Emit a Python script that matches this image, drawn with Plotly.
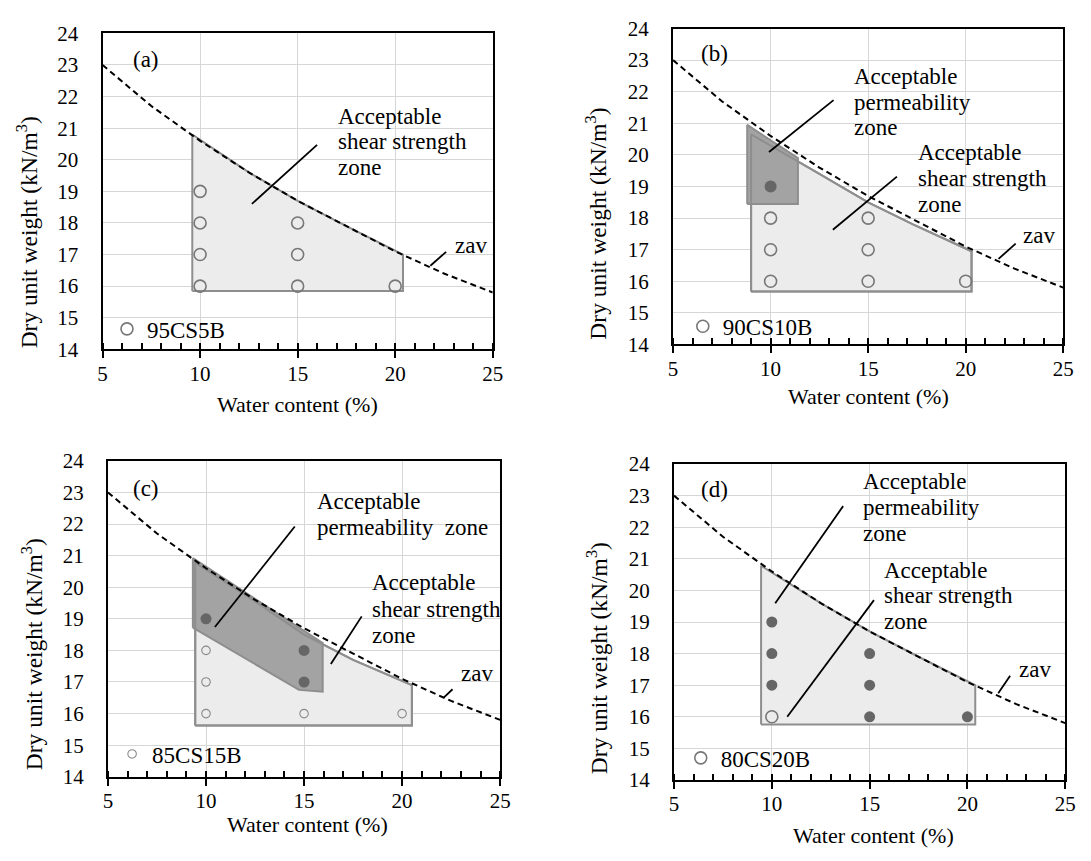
import plotly.graph_objects as go

FIG_W, FIG_H = 1091, 861
FONT = "Liberation Serif, Times New Roman, serif"

# ---------------- data ----------------
X_TICKS = [5, 10, 15, 20, 25]
Y_TICKS = [14, 15, 16, 17, 18, 19, 20, 21, 22, 23, 24]

# zero-air-voids curve (same in all panels)
ZAV_W = [5, 7.5, 10, 12.5, 15, 17.5, 20, 22.5, 25]
ZAV_G = [23.0, 21.7, 20.6, 19.6, 18.7, 17.9, 17.1, 16.4, 15.8]

# (a) 95CS5B
A_NAME = "95CS5B"
A_SHEAR_W = [9.6, 9.6, 12.5, 15.0, 17.5, 20.4, 20.4]
A_SHEAR_G = [15.85, 20.8, 19.6, 18.7, 17.9, 17.0, 15.85]
A_OPEN_W = [10, 10, 10, 10, 15, 15, 15, 20]
A_OPEN_G = [19, 18, 17, 16, 18, 17, 16, 16]
A_FILL_W = []
A_FILL_G = []

# (b) 90CS10B
B_NAME = "90CS10B"
B_SHEAR_W = [9.0, 9.0, 12.5, 15.0, 17.3, 20.3, 20.3]
B_SHEAR_G = [15.68, 20.65, 19.4, 18.5, 17.8, 16.95, 15.68]
B_PERM_W = [8.8, 8.8, 11.4, 11.4]
B_PERM_G = [18.45, 20.95, 19.9, 18.45]
B_OPEN_W = [10, 10, 10, 15, 15, 15, 20]
B_OPEN_G = [18, 17, 16, 18, 17, 16, 16]
B_FILL_W = [10]
B_FILL_G = [19]

# (c) 85CS15B
C_NAME = "85CS15B"
C_SHEAR_W = [9.45, 9.45, 12.5, 15.0, 17.5, 20.5, 20.5]
C_SHEAR_G = [15.62, 20.78, 19.55, 18.5, 17.7, 16.9, 15.62]
C_PERM_W = [9.33, 9.33, 15.95, 15.95, 14.74]
C_PERM_G = [18.72, 20.92, 18.23, 16.69, 16.75]
C_OPEN_W = [10, 10, 10, 15, 20]
C_OPEN_G = [18, 17, 16, 16, 16]
C_FILL_W = [10, 15, 15]
C_FILL_G = [19, 18, 17]

# (d) 80CS20B
D_NAME = "80CS20B"
D_SHEAR_W = [9.45, 9.45, 12.5, 15.0, 17.5, 20.4, 20.4]
D_SHEAR_G = [15.76, 20.78, 19.6, 18.7, 17.9, 17.0, 15.76]
D_OPEN_W = [10]
D_OPEN_G = [16]
D_FILL_W = [10, 10, 10, 15, 15, 15, 20]
D_FILL_G = [19, 18, 17, 18, 17, 16, 16]

# ---------------- helpers ----------------
def px(x):
    return x / FIG_W


def py(y):
    return 1 - y / FIG_H


def closed(a):
    return list(a) + list(a[:1])


SHEAR_FILL = "#ececec"
PERM_FILL = "#a3a3a3"
EDGE = "#8e8e8e"
OPEN_C = "#777777"
FILL_C = "#666666"

panels = [
    dict(key="", legend="legend", name=A_NAME,
         shear=(A_SHEAR_W, A_SHEAR_G), perm=None,
         open=(A_OPEN_W, A_OPEN_G), fill=(A_FILL_W, A_FILL_G),
         open_size=12, open_lw=1.6, open_col=OPEN_C, fill_size=12,
         box=(99, 495, 22, 347)),
    dict(key="2", legend="legend2", name=B_NAME,
         shear=(B_SHEAR_W, B_SHEAR_G), perm=(B_PERM_W, B_PERM_G),
         open=(B_OPEN_W, B_OPEN_G), fill=(B_FILL_W, B_FILL_G),
         open_size=12, open_lw=1.6, open_col=OPEN_C, fill_size=12,
         box=(678, 1074, 17, 342)),
    dict(key="3", legend="legend3", name=C_NAME,
         shear=(C_SHEAR_W, C_SHEAR_G), perm=(C_PERM_W, C_PERM_G),
         open=(C_OPEN_W, C_OPEN_G), fill=(C_FILL_W, C_FILL_G),
         open_size=8.5, open_lw=1.1, open_col="#8a8a8a", fill_size=11,
         box=(104.5, 502.5, 461.7, 786.7)),
    dict(key="4", legend="legend4", name=D_NAME,
         shear=(D_SHEAR_W, D_SHEAR_G), perm=None,
         open=(D_OPEN_W, D_OPEN_G), fill=(D_FILL_W, D_FILL_G),
         open_size=12, open_lw=1.6, open_col=OPEN_C, fill_size=11,
         box=(679, 1076, 465, 790)),
]

fig = go.Figure()
layout = dict(
    width=FIG_W, height=FIG_H,
    margin=dict(l=0, r=0, t=0, b=0),
    paper_bgcolor="white", plot_bgcolor="white",
    showlegend=True,
    font=dict(family=FONT, color="black"),
)

for p in panels:
    xa, ya = "x" + p["key"], "y" + p["key"]
    sw, sg = p["shear"]
    # shear strength zone
    fig.add_trace(go.Scatter(x=closed(sw), y=closed(sg), xaxis=xa, yaxis=ya,
                             mode="lines", fill="toself", fillcolor=SHEAR_FILL,
                             line=dict(color=EDGE, width=2), hoverinfo="skip",
                             showlegend=False))
    if p["perm"] is not None:
        pw, pg = p["perm"]
        fig.add_trace(go.Scatter(x=closed(pw), y=closed(pg), xaxis=xa, yaxis=ya,
                                 mode="lines", fill="toself", fillcolor=PERM_FILL,
                                 line=dict(color=EDGE, width=2), hoverinfo="skip",
                                 showlegend=False))
        fig.add_trace(go.Scatter(x=closed(sw), y=closed(sg), xaxis=xa, yaxis=ya,
                                 mode="lines", line=dict(color=EDGE, width=2),
                                 hoverinfo="skip", showlegend=False))
    # zero air voids line
    fig.add_trace(go.Scatter(x=ZAV_W, y=ZAV_G, xaxis=xa, yaxis=ya, mode="lines",
                             line=dict(color="black", width=2, dash="6px,4px"),
                             showlegend=False, hoverinfo="skip"))
    ow, og = p["open"]
    fig.add_trace(go.Scatter(x=ow, y=og, xaxis=xa, yaxis=ya, mode="markers",
                             name=p["name"], legend=p["legend"], showlegend=True,
                             marker=dict(symbol="circle-open", size=p["open_size"],
                                         color=p["open_col"],
                                         line=dict(width=p["open_lw"], color=p["open_col"]))))
    fw, fg = p["fill"]
    if len(fw):
        fig.add_trace(go.Scatter(x=fw, y=fg, xaxis=xa, yaxis=ya, mode="markers",
                                 showlegend=False,
                                 marker=dict(symbol="circle", size=p["fill_size"], color=FILL_C)))

    l, r, t, b = p["box"]
    layout["xaxis" + p["key"]] = dict(
        domain=[px(l), px(r)], anchor=ya, range=[5, 25],
        tickmode="array", tickvals=X_TICKS, ticktext=[str(v) for v in X_TICKS],
        showline=True, linecolor="black", linewidth=2, mirror=True,
        showgrid=True, gridcolor="#d6d6d6", gridwidth=1.3, zeroline=False,
        ticks="outside", ticklen=7, tickwidth=1.6, tickcolor="black",
        minor=dict(tickmode="linear", tick0=5, dtick=1, ticks="inside", ticklen=6,
                   tickwidth=1.6, tickcolor="black", showgrid=False),
        tickfont=dict(family=FONT, size=21, color="black"),
        ticklabelstandoff=-3,
    )
    layout["yaxis" + p["key"]] = dict(
        domain=[py(b), py(t)], anchor=xa, range=[14, 24],
        tickmode="array", tickvals=Y_TICKS, ticktext=[str(v) for v in Y_TICKS],
        showline=True, linecolor="black", linewidth=2, mirror=True,
        showgrid=True, gridcolor="#d6d6d6", gridwidth=1.3, zeroline=False,
        ticks="",
        tickfont=dict(family=FONT, size=21, color="black"),
        ticklabelstandoff=18,
    )

# legends (one per panel)
leg_pos = [("legend", 130.5, 326), ("legend2", 714.9, 323.3),
           ("legend3", 135.7, 763.3), ("legend4", 712.8, 767.3)]
for name, cx, cy in leg_pos:
    layout[name] = dict(x=px(cx - 27), y=py(cy), xanchor="left", yanchor="middle",
                        bgcolor="rgba(0,0,0,0)", borderwidth=0, itemwidth=30,
                        font=dict(family=FONT, size=23, color="black"))

# ---------------- annotations ----------------
annotations = []
shapes = []


def txt(x, y, s, size=23, anchor="left", angle=0):
    annotations.append(dict(xref="paper", yref="paper", x=px(x), y=py(y), text=s,
                            showarrow=False, xanchor=anchor, yanchor="middle",
                            textangle=angle,
                            font=dict(family=FONT, size=size, color="black")))


def lines(x, ys, strings):
    for y, s in zip(ys, strings):
        txt(x, y, s)


def leader(x0, y0, x1, y1, w=1.8):
    shapes.append(dict(type="line", xref="paper", yref="paper",
                       x0=px(x0), y0=py(y0), x1=px(x1), y1=py(y1),
                       line=dict(color="black", width=w)))


YT = "Dry unit weight (kN/m<sup>3</sup>)"
XT = "Water content (%)"
YT_SIZE = 23.5
XT_SIZE = 22

# panel (a)
txt(143, 49, "(a)", anchor="center")
lines(336, [107, 133, 160], ["Acceptable", "shear strength", "zone"])
leader(316.7, 136.7, 250.6, 197.3)
txt(473, 240, "zav", anchor="center")
leader(447.7, 246.7, 431.7, 261)
txt(297, 404, XT, size=XT_SIZE, anchor="center")
txt(22, 227, YT, size=YT_SIZE, anchor="center", angle=-90)

# panel (b)
txt(720, 43, "(b)", anchor="center")
lines(860, [66, 92.7, 119.3], ["Acceptable", "permeability", "zone"])
leader(840.9, 90.7, 775.4, 144)
lines(924.4, [145, 171.7, 198.3], ["Acceptable", "shear strength", "zone"])
leader(905.2, 169.3, 840.2, 224)
txt(1049.7, 230, "zav", anchor="center")
leader(1025.7, 238.3, 1008.3, 254)
txt(876, 396, XT, size=XT_SIZE, anchor="center")
txt(600, 217.5, YT, size=YT_SIZE, anchor="center", angle=-90)

# panel (c)
txt(142.7, 490, "(c)", anchor="center")
lines(315, [504, 530], ["Acceptable", "permeability  zone"])
leader(294.1, 529.3, 213, 632.7)
lines(370, [587.3, 614.3, 641], ["Acceptable", "shear strength", "zone"])
leader(362, 621.7, 330.7, 670.7)
txt(479.5, 680, "zav", anchor="center")
leader(454.2, 696.7, 445.5, 705)
txt(307, 836, XT, size=XT_SIZE, anchor="center")
txt(27, 661, YT, size=YT_SIZE, anchor="center", angle=-90)

# panel (d)
txt(720, 491.7, "(d)", anchor="center")
lines(868.7, [483.3, 510, 536.7], ["Acceptable", "permeability", "zone"])
leader(850.6, 508.3, 781.7, 608.3)
lines(889.6, [574, 600, 627.3], ["Acceptable", "shear strength", "zone"])
leader(881.9, 605, 793.9, 725)
txt(1045, 676, "zav", anchor="center")
leader(1020.1, 682.7, 1008, 700.7)
txt(881.6, 847, XT, size=XT_SIZE, anchor="center")
txt(601.5, 665, YT, size=YT_SIZE, anchor="center", angle=-90)

layout["annotations"] = annotations
layout["shapes"] = shapes
fig.update_layout(**layout)

fig.write_html("out.html")
